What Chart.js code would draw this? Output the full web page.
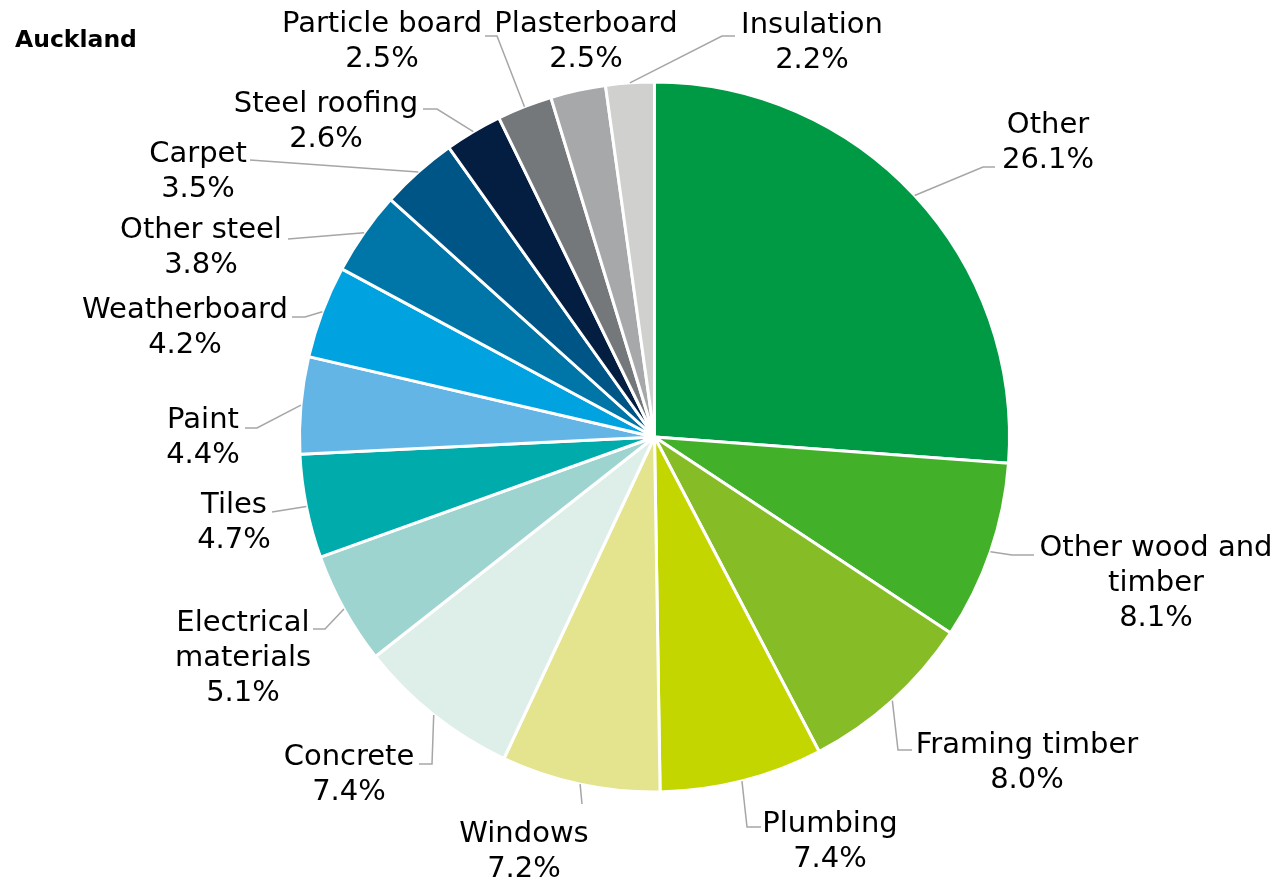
<!DOCTYPE html>
<html>
<head>
<meta charset="utf-8">
<title>Auckland</title>
<script src="https://cdn.jsdelivr.net/npm/chart.js@4.4.1/dist/chart.umd.min.js"></script>
<style>
  html, body { margin: 0; padding: 0; background: #fff; }
  #wrap { width: 1278px; height: 880px; }
</style>
</head>
<body>
<div id="wrap"><canvas id="pie" width="1278" height="880"></canvas></div>
<script>
const categories = [
    'Other', 'Other wood and timber', 'Framing timber', 'Plumbing', 'Windows',
    'Concrete', 'Electrical materials', 'Tiles', 'Paint', 'Weatherboard',
    'Other steel', 'Carpet', 'Steel roofing', 'Particle board', 'Plasterboard',
    'Insulation',
]
const shares = [26.1, 8.1, 8.0, 7.4, 7.2, 7.4, 5.1, 4.7, 4.4, 4.2, 3.8, 3.5, 2.6, 2.5, 2.5, 2.2]
const sliceColors = [
    '#009a44', '#43b02a', '#86bc25', '#c4d600', '#e3e48d',
    '#ddefe8', '#9dd4cf', '#00abab', '#62b5e5', '#00a3e0',
    '#0076a8', '#005587', '#041e42', '#75787b', '#a7a8aa',
    '#d0d0ce',
]

// long names broken over two lines
const wrapped = {
    'Other wood and timber': ['Other wood and', 'timber'],
    'Electrical materials': ['Electrical', 'materials'],
}

// label centre x / first baseline, plus the bends of each leader line
const labelSpots = [
    { x: 1048, y: 133, path: [[983, 167], [995, 167]] },
    { x: 1156, y: 556, path: [[1012, 555], [1034, 555]] },
    { x: 1027, y: 753, path: [[898, 750], [912, 750]] },
    { x: 830, y: 832, path: [[747, 827], [761, 827]] },
    { x: 524, y: 842, path: [[582, 804]] },
    { x: 349, y: 765, path: [[432, 764], [419, 764]] },
    { x: 243, y: 631, path: [[325, 629], [313, 629]] },
    { x: 234, y: 513, path: [[272, 512]] },
    { x: 203, y: 428, path: [[257, 428], [245, 428]] },
    { x: 185, y: 318, path: [[305, 317], [292, 317]] },
    { x: 201, y: 238, path: [[288, 239]] },
    { x: 198, y: 162, path: [[250, 160]] },
    { x: 326, y: 112, path: [[437, 109], [423, 109]] },
    { x: 382, y: 32, path: [[497, 36], [485, 36]] },
    { x: 586, y: 32, path: [] },
    { x: 812, y: 33, path: [[722, 36], [735, 36]] },
]

const calloutPlugin = {
    id: 'callouts',
    afterDatasetsDraw(chart) {
        const ctx = chart.ctx
        const arcs = chart.getDatasetMeta(0).data
        ctx.save()

        ctx.fillStyle = '#000'
        ctx.textBaseline = 'alphabetic'
        ctx.textAlign = 'left'
        ctx.font = 'bold 23.5px "DejaVu Sans"'
        ctx.fillText('Auckland', 15, 47)

        ctx.font = '29px "DejaVu Sans"'
        ctx.textAlign = 'center'
        arcs.forEach((arc, i) => {
            const spot = labelSpots[i]
            const { x, y, startAngle, endAngle, outerRadius } = arc.getProps(
                ['x', 'y', 'startAngle', 'endAngle', 'outerRadius'], true)
            const mid = (startAngle + endAngle) / 2

            if (spot.path.length) {
                ctx.beginPath()
                ctx.moveTo(x + Math.cos(mid) * outerRadius, y + Math.sin(mid) * outerRadius)
                spot.path.forEach((p) => ctx.lineTo(p[0], p[1]))
                ctx.strokeStyle = '#a6a6a6'
                ctx.lineWidth = 1.5
                ctx.stroke()
            }

            const lines = (wrapped[categories[i]] || [categories[i]])
                .concat(shares[i].toFixed(1) + '%')
            lines.forEach((t, k) => ctx.fillText(t, spot.x, spot.y + k * 35))
        })
        ctx.restore()
    },
}

new Chart(document.getElementById('pie'), {
    type: 'pie',
    data: {
        labels: categories,
        datasets: [
            {
                data: shares,
                backgroundColor: sliceColors,
                borderColor: '#ffffff',
                borderWidth: 3,
                hoverOffset: 0,
            },
        ],
    },
    options: {
        responsive: false,
        animation: false,
        events: [],
        layout: {
            padding: { top: 80, bottom: 86, left: 298, right: 267 },
        },
        plugins: {
            legend: { display: false },
            tooltip: { enabled: false },
            title: { display: false },
        },
    },
    plugins: [calloutPlugin],
})
</script>
</body>
</html>
